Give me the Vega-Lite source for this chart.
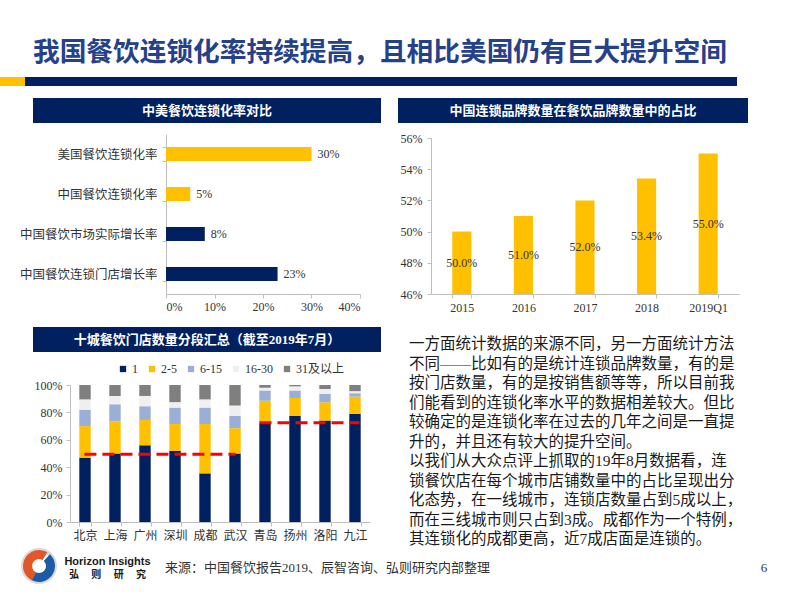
{
  "$schema": "https://vega.github.io/schema/vega-lite/v6.json",
  "padding": 0,
  "background": "white",
  "bounds": "flush",
  "spacing": 0,
  "resolve": {"scale": {"color": "independent"}},
  "config": {
    "view": {"stroke": null},
    "concat": {"spacing": 0},
    "font": "Liberation Serif, Noto Sans CJK SC",
    "axis": {"domainColor": "#BFBFBF", "tickColor": "#BFBFBF", "labelColor": "#333333", "labelFont": "Liberation Serif, Noto Sans CJK SC", "labelFontSize": 12, "grid": false, "tickSize": 4, "labelOverlap": false}
  },
  "vconcat": [
    {"width": 802, "height": 3, "data": {"values": []}, "mark": "point"},
    {"width": 66, "height": 74, "data": {"values": [{"t": "我国餐饮连锁化率持续提高，且相比美国仍有巨大提升空间"}]}, "mark": {"type": "text", "align": "left", "baseline": "top", "font": "Noto Sans CJK SC", "fontWeight": "bold", "fontSize": 26.7, "color": "#24418A"}, "encoding": {"text": {"field": "t"}}},
    {"bounds": "flush", "spacing": 0, "hconcat": [
      {"width": 25, "height": 9, "view": {"fill": "#FFC000", "stroke": null}, "data": {"values": []}, "mark": "point"},
      {"width": 712, "height": 9, "view": {"fill": "#002060", "stroke": null}, "data": {"values": []}, "mark": "point"}
    ]},
    {"width": 1, "height": 21, "data": {"values": []}, "mark": "point"},
    {"bounds": "flush", "spacing": 0, "hconcat": [
      {"width": 33, "height": 1, "data": {"values": []}, "mark": "point"},
      {"width": 348, "height": 25, "view": {"fill": "#002060", "stroke": null}, "data": {"values": [{"t": "中美餐饮连锁化率对比"}]}, "mark": {"type": "text", "color": "white", "fontSize": 13, "fontWeight": "bold", "font": "Noto Sans CJK SC"}, "encoding": {"text": {"field": "t"}}},
      {"width": 17, "height": 1, "data": {"values": []}, "mark": "point"},
      {"width": 350, "height": 25, "view": {"fill": "#002060", "stroke": null}, "data": {"values": [{"t": "中国连锁品牌数量在餐饮品牌数量中的占比"}]}, "mark": {"type": "text", "color": "white", "fontSize": 13, "fontWeight": "bold", "font": "Noto Sans CJK SC"}, "encoding": {"text": {"field": "t"}}}
    ]},
    {"width": 1, "height": 36, "data": {"values": []}, "mark": "point"},
    {"bounds": "flush", "spacing": 0, "resolve": {"scale": {"color": "independent"}}, "hconcat": [
      {"width": 166, "height": 1, "data": {"values": []}, "mark": "point"},
      {
        "width": 194, "height": 160,
        "data": {"values": [
          {"item": "美国餐饮连锁化率", "rate": 0.30, "kind": "连锁化率"},
          {"item": "中国餐饮连锁化率", "rate": 0.05, "kind": "连锁化率"},
          {"item": "中国餐饮市场实际增长率", "rate": 0.08, "kind": "增长率"},
          {"item": "中国餐饮连锁门店增长率", "rate": 0.23, "kind": "增长率"}
        ]},
        "encoding": {
          "y": {"field": "item", "type": "nominal", "sort": null, "title": null, "scale": {"paddingInner": 0.65, "paddingOuter": 0.325}, "axis": {"tickBand": "extent", "labelPadding": 5, "labelFontSize": 12.5, "labelLimit": 200}},
          "x": {"field": "rate", "type": "quantitative", "title": null, "scale": {"domain": [0, 0.4]}, "axis": {"values": [0, 0.1, 0.2, 0.3, 0.4], "format": ".0%", "labelPadding": 3}}
        },
        "layer": [
          {"mark": "bar", "encoding": {"color": {"field": "kind", "type": "nominal", "scale": {"domain": ["连锁化率", "增长率"], "range": ["#FFC000", "#002060"]}, "legend": null}}},
          {"mark": {"type": "text", "align": "left", "dx": 6, "fontSize": 12, "color": "#333333"}, "encoding": {"text": {"field": "rate", "type": "quantitative", "format": ".0%"}}}
        ]
      },
      {"width": 71, "height": 1, "data": {"values": []}, "mark": "point"},
      {"bounds": "flush", "spacing": 0, "vconcat": [
        {"width": 1, "height": 4, "data": {"values": []}, "mark": "point"},
        {
          "width": 308, "height": 156,
          "data": {"values": [
            {"year": "2015", "share": 0.50},
            {"year": "2016", "share": 0.51},
            {"year": "2017", "share": 0.52},
            {"year": "2018", "share": 0.534},
            {"year": "2019Q1", "share": 0.55}
          ]},
          "encoding": {"x": {"field": "year", "type": "nominal", "sort": null, "title": null, "scale": {"paddingInner": 0.69, "paddingOuter": 0.345}, "axis": {"tickBand": "extent", "labelAngle": 0, "labelPadding": 4}}},
          "layer": [
            {"mark": {"type": "bar", "color": "#FFC000"}, "encoding": {"y": {"field": "share", "type": "quantitative", "title": null, "scale": {"domain": [0.46, 0.56], "zero": false}, "axis": {"values": [0.46, 0.48, 0.50, 0.52, 0.54, 0.56], "format": ".0%", "labelPadding": 5}}, "y2": {"datum": 0.46}}},
            {"mark": {"type": "text", "fontSize": 12, "color": "#333333"}, "encoding": {"y": {"field": "share", "type": "quantitative", "title": null, "scale": {"domain": [0.46, 0.66], "zero": false}, "axis": null}, "text": {"field": "share", "type": "quantitative", "format": ".1%"}}}
          ],
          "resolve": {"scale": {"y": "independent"}}
        }
      ]}
    ]},
    {"width": 1, "height": 193, "data": {"values": []}, "mark": "point"},
    {"bounds": "flush", "spacing": 0, "hconcat": [
      {"width": 33, "height": 1, "data": {"values": []}, "mark": "point"},
      {"width": 348, "height": 25, "view": {"fill": "#002060", "stroke": null}, "data": {"values": [{"t": "十城餐饮门店数量分段汇总（截至2019年7月）"}]}, "mark": {"type": "text", "color": "white", "fontSize": 13, "fontWeight": "bold", "font": "Liberation Serif, Noto Sans CJK SC"}, "encoding": {"text": {"field": "t"}}},
      {"width": 27, "height": 1, "data": {"values": []}, "mark": "point"},
      {"width": 2, "height": 20, "data": {"values": [{"para": [
        "一方面统计数据的来源不同，另一方面统计方法",
        "不同——比如有的是统计连锁品牌数量，有的是",
        "按门店数量，有的是按销售额等等，所以目前我",
        "们能看到的连锁化率水平的数据相差较大。但比",
        "较确定的是连锁化率在过去的几年之间是一直提",
        "升的，并且还有较大的提升空间。",
        "以我们从大众点评上抓取的19年8月数据看，连",
        "锁餐饮店在每个城市店铺数量中的占比呈现出分",
        "化态势，在一线城市，连锁店数量占到5成以上，",
        "而在三线城市则只占到3成。成都作为一个特例，",
        "其连锁化的成都更高，近7成店面是连锁的。"
      ]}]}, "mark": {"type": "text", "align": "left", "baseline": "top", "fontSize": 15.5, "lineHeight": 19.5, "color": "#1a1a1a", "font": "Liberation Serif, Noto Sans CJK SC"}, "encoding": {"text": {"field": "para"}}}
    ]},
    {"width": 1, "height": 58, "data": {"values": []}, "mark": "point"},
    {"bounds": "flush", "spacing": 0, "resolve": {"scale": {"color": "independent"}}, "hconcat": [
      {"width": 70, "height": 1, "data": {"values": []}, "mark": "point"},
      {
        "width": 300, "height": 137,
        "layer": [
          {
            "data": {"values": [
              {"city": "北京", "size": "1", "rank": 1, "share": 0.47},
              {"city": "北京", "size": "2-5", "rank": 2, "share": 0.23},
              {"city": "北京", "size": "6-15", "rank": 3, "share": 0.12},
              {"city": "北京", "size": "16-30", "rank": 4, "share": 0.075},
              {"city": "北京", "size": "31及以上", "rank": 5, "share": 0.105},
              {"city": "上海", "size": "1", "rank": 1, "share": 0.50},
              {"city": "上海", "size": "2-5", "rank": 2, "share": 0.235},
              {"city": "上海", "size": "6-15", "rank": 3, "share": 0.125},
              {"city": "上海", "size": "16-30", "rank": 4, "share": 0.06},
              {"city": "上海", "size": "31及以上", "rank": 5, "share": 0.08},
              {"city": "广州", "size": "1", "rank": 1, "share": 0.56},
              {"city": "广州", "size": "2-5", "rank": 2, "share": 0.185},
              {"city": "广州", "size": "6-15", "rank": 3, "share": 0.10},
              {"city": "广州", "size": "16-30", "rank": 4, "share": 0.075},
              {"city": "广州", "size": "31及以上", "rank": 5, "share": 0.08},
              {"city": "深圳", "size": "1", "rank": 1, "share": 0.52},
              {"city": "深圳", "size": "2-5", "rank": 2, "share": 0.195},
              {"city": "深圳", "size": "6-15", "rank": 3, "share": 0.12},
              {"city": "深圳", "size": "16-30", "rank": 4, "share": 0.04},
              {"city": "深圳", "size": "31及以上", "rank": 5, "share": 0.125},
              {"city": "成都", "size": "1", "rank": 1, "share": 0.355},
              {"city": "成都", "size": "2-5", "rank": 2, "share": 0.36},
              {"city": "成都", "size": "6-15", "rank": 3, "share": 0.12},
              {"city": "成都", "size": "16-30", "rank": 4, "share": 0.06},
              {"city": "成都", "size": "31及以上", "rank": 5, "share": 0.105},
              {"city": "武汉", "size": "1", "rank": 1, "share": 0.50},
              {"city": "武汉", "size": "2-5", "rank": 2, "share": 0.185},
              {"city": "武汉", "size": "6-15", "rank": 3, "share": 0.09},
              {"city": "武汉", "size": "16-30", "rank": 4, "share": 0.075},
              {"city": "武汉", "size": "31及以上", "rank": 5, "share": 0.15},
              {"city": "青岛", "size": "1", "rank": 1, "share": 0.72},
              {"city": "青岛", "size": "2-5", "rank": 2, "share": 0.165},
              {"city": "青岛", "size": "6-15", "rank": 3, "share": 0.075},
              {"city": "青岛", "size": "16-30", "rank": 4, "share": 0.02},
              {"city": "青岛", "size": "31及以上", "rank": 5, "share": 0.02},
              {"city": "扬州", "size": "1", "rank": 1, "share": 0.775},
              {"city": "扬州", "size": "2-5", "rank": 2, "share": 0.13},
              {"city": "扬州", "size": "6-15", "rank": 3, "share": 0.055},
              {"city": "扬州", "size": "16-30", "rank": 4, "share": 0.03},
              {"city": "扬州", "size": "31及以上", "rank": 5, "share": 0.01},
              {"city": "洛阳", "size": "1", "rank": 1, "share": 0.74},
              {"city": "洛阳", "size": "2-5", "rank": 2, "share": 0.135},
              {"city": "洛阳", "size": "6-15", "rank": 3, "share": 0.06},
              {"city": "洛阳", "size": "16-30", "rank": 4, "share": 0.035},
              {"city": "洛阳", "size": "31及以上", "rank": 5, "share": 0.03},
              {"city": "九江", "size": "1", "rank": 1, "share": 0.79},
              {"city": "九江", "size": "2-5", "rank": 2, "share": 0.125},
              {"city": "九江", "size": "6-15", "rank": 3, "share": 0.025},
              {"city": "九江", "size": "16-30", "rank": 4, "share": 0.015},
              {"city": "九江", "size": "31及以上", "rank": 5, "share": 0.045}
            ]},
            "mark": "bar",
            "encoding": {
              "x": {"field": "city", "type": "nominal", "title": null, "scale": {"domain": ["北京", "上海", "广州", "深圳", "成都", "武汉", "青岛", "扬州", "洛阳", "九江"], "paddingInner": 0.62, "paddingOuter": 0.31}, "axis": {"tickBand": "extent", "labelAngle": 0, "labelPadding": 4, "labelFontSize": 12}},
              "y": {"field": "share", "type": "quantitative", "stack": "zero", "title": null, "scale": {"domain": [0, 1]}, "axis": {"values": [0, 0.2, 0.4, 0.6, 0.8, 1], "format": ".0%", "labelPadding": 4, "labelOverlap": false}},
              "color": {"field": "size", "type": "nominal", "scale": {"domain": ["1", "2-5", "6-15", "16-30", "31及以上"], "range": ["#002060", "#FFC000", "#9AAED6", "#EFEFEF", "#7F7F7F"]},
                "legend": {"orient": "none", "legendX": 47, "legendY": -22, "direction": "horizontal", "title": null, "symbolType": "square", "symbolSize": 40, "symbolStrokeWidth": 0, "labelFontSize": 12, "labelFont": "Liberation Serif, Noto Sans CJK SC", "labelColor": "#333333", "columnPadding": 8, "labelOffset": 3}},
              "order": {"field": "rank", "type": "quantitative"}
            }
          },
          {
            "data": {"values": [{"from": "北京", "to": "武汉", "avg": 0.495}]},
            "mark": {"type": "rule", "color": "#FF0000", "strokeWidth": 3, "strokeDash": [12, 6]},
            "encoding": {
              "x": {"field": "from", "type": "nominal", "title": null, "bandPosition": 0.45, "axis": {"tickBand": "extent", "labelAngle": 0, "labelPadding": 4, "labelFontSize": 12}},
              "x2": {"field": "to", "bandPosition": 0.55},
              "y": {"field": "avg", "type": "quantitative", "title": null, "axis": {"values": [0, 0.2, 0.4, 0.6, 0.8, 1], "format": ".0%", "labelPadding": 4, "labelOverlap": false}}
            }
          },
          {
            "data": {"values": [{"from": "青岛", "to": "九江", "avg": 0.725}]},
            "mark": {"type": "rule", "color": "#FF0000", "strokeWidth": 3, "strokeDash": [12, 6]},
            "encoding": {
              "x": {"field": "from", "type": "nominal", "title": null, "bandPosition": 0.02, "axis": {"tickBand": "extent", "labelAngle": 0, "labelPadding": 4, "labelFontSize": 12}},
              "x2": {"field": "to", "bandPosition": 0.9},
              "y": {"field": "avg", "type": "quantitative", "title": null, "axis": {"values": [0, 0.2, 0.4, 0.6, 0.8, 1], "format": ".0%", "labelPadding": 4, "labelOverlap": false}}
            }
          }
        ]
      }
    ]},
    {"width": 1, "height": 177, "data": {"values": []}, "mark": "point"},
    {"bounds": "flush", "spacing": 0, "hconcat": [
      {"width": 22, "height": 1, "data": {"values": []}, "mark": "point"},
      {"width": 34, "height": 8, "data": {"values": [{"logo": "Horizon Insights"}]},
       "layer": [
         {"mark": {"type": "arc", "innerRadius": 14, "outerRadius": 18, "theta": 0, "theta2": 6.2832, "color": "#D9D9D9"}, "encoding": {}},
         {"mark": {"type": "arc", "innerRadius": 7, "outerRadius": 16, "theta": -2.7, "theta2": 0.55, "color": "#E2572A"}, "encoding": {}},
         {"mark": {"type": "arc", "innerRadius": 7, "outerRadius": 16, "theta": 0.75, "theta2": 3.6, "color": "#1D5BA6"}, "encoding": {}}
       ]},
      {"width": 8, "height": 1, "data": {"values": []}, "mark": "point"},
      {"width": 87, "height": 12, "data": {"values": [{"en": "Horizon Insights", "cn": "弘　 则　 研　 究"}]},
       "layer": [
         {"mark": {"type": "text", "font": "Liberation Sans", "fontWeight": "bold", "fontSize": 11, "dy": -6, "color": "#1a1a1a"}, "encoding": {"text": {"field": "en"}}},
         {"mark": {"type": "text", "font": "Noto Sans CJK SC", "fontWeight": "bold", "fontSize": 10, "dy": 6.5, "color": "#1a1a1a"}, "encoding": {"text": {"field": "cn"}}}
       ]},
      {"width": 13, "height": 1, "data": {"values": []}, "mark": "point"},
      {"width": 2, "height": 12, "data": {"values": [{"s": "来源：中国餐饮报告2019、辰智咨询、弘则研究内部整理"}]}, "mark": {"type": "text", "align": "left", "fontSize": 13, "color": "#333333", "font": "Liberation Serif, Noto Sans CJK SC"}, "encoding": {"text": {"field": "s"}}},
      {"width": 597, "height": 1, "data": {"values": []}, "mark": "point"},
      {"width": 2, "height": 12, "data": {"values": [{"p": "6"}]}, "mark": {"type": "text", "fontSize": 13, "color": "#1F3864", "font": "Liberation Serif"}, "encoding": {"text": {"field": "p"}}}
    ]},
    {"width": 1, "height": 20, "data": {"values": []}, "mark": "point"}
  ]
}
